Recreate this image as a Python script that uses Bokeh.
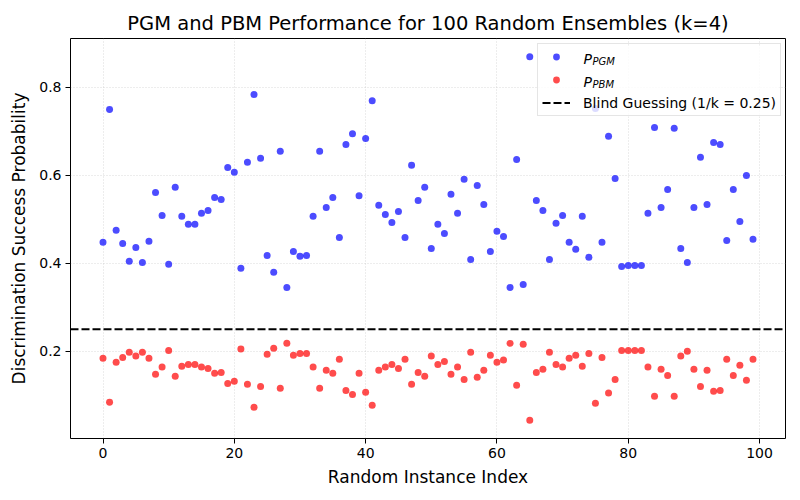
from bokeh.plotting import figure
from bokeh.models import (Range1d, FixedTicker, Legend, LegendItem, Label, ColumnDataSource,
                          BoxAnnotation)
from bokeh.embed import file_html
from bokeh.resources import INLINE

k = 4
instance_index = list(range(100))
p_pgm = [0.448, 0.750, 0.475, 0.445, 0.405, 0.436, 0.402, 0.450, 0.561, 0.509,
         0.398, 0.573, 0.507, 0.489, 0.489, 0.514, 0.520, 0.550, 0.545, 0.618,
         0.607, 0.389, 0.630, 0.784, 0.639, 0.418, 0.380, 0.655, 0.345, 0.427,
         0.416, 0.418, 0.507, 0.655, 0.527, 0.550, 0.459, 0.670, 0.695, 0.554,
         0.684, 0.770, 0.532, 0.511, 0.493, 0.518, 0.459, 0.623, 0.543, 0.573,
         0.434, 0.489, 0.468, 0.557, 0.514, 0.591, 0.409, 0.577, 0.534, 0.427,
         0.473, 0.461, 0.345, 0.636, 0.352, 0.870, 0.543, 0.520, 0.409, 0.491,
         0.509, 0.448, 0.432, 0.507, 0.414, 0.752, 0.448, 0.689, 0.593, 0.393,
         0.395, 0.395, 0.395, 0.514, 0.709, 0.527, 0.568, 0.707, 0.434, 0.402,
         0.527, 0.641, 0.534, 0.675, 0.670, 0.452, 0.568, 0.495, 0.600, 0.455]
p_pbm = [0.184, 0.084, 0.175, 0.186, 0.198, 0.189, 0.198, 0.184, 0.148, 0.164,
         0.202, 0.143, 0.166, 0.170, 0.170, 0.164, 0.161, 0.150, 0.152, 0.127,
         0.132, 0.205, 0.125, 0.073, 0.120, 0.193, 0.207, 0.116, 0.218, 0.191,
         0.195, 0.195, 0.164, 0.116, 0.157, 0.150, 0.182, 0.111, 0.102, 0.150,
         0.107, 0.077, 0.157, 0.164, 0.170, 0.161, 0.182, 0.125, 0.152, 0.143,
         0.189, 0.170, 0.177, 0.148, 0.164, 0.136, 0.198, 0.141, 0.157, 0.191,
         0.175, 0.180, 0.218, 0.123, 0.216, 0.043, 0.152, 0.159, 0.198, 0.170,
         0.164, 0.184, 0.191, 0.166, 0.195, 0.082, 0.186, 0.105, 0.136, 0.202,
         0.202, 0.202, 0.202, 0.164, 0.098, 0.159, 0.145, 0.098, 0.189, 0.200,
         0.159, 0.120, 0.157, 0.109, 0.111, 0.182, 0.145, 0.168, 0.134, 0.182]
x_ticks = [0, 20, 40, 60, 80, 100]
y_ticks = [0.2, 0.4, 0.6, 0.8]

# matplotlib-like 5% margins
xmin, xmax = min(instance_index), max(instance_index)
xpad = 0.05 * (xmax - xmin)
all_y = p_pgm + p_pbm
ymin, ymax = min(all_y), max(all_y)
ypad = 0.05 * (ymax - ymin)
x_lo, x_hi = xmin - xpad, xmax + xpad

FONT = "DejaVu Sans"

p = figure(width=800, height=500, output_backend="svg", toolbar_location=None,
           x_range=Range1d(x_lo, x_hi),
           y_range=Range1d(ymin - ypad, ymax + ypad),
           min_border_left=70, min_border_right=15, min_border_top=38, min_border_bottom=62,
           background_fill_color="white", border_fill_color="white")

p.title.text = "PGM and PBM Performance for 100 Random Ensembles (k=4)"
p.title.align = "center"
p.title.text_font = FONT
p.title.text_font_size = "19.5px"
p.title.text_font_style = "normal"
p.title.text_color = "black"
p.title.offset = 0
p.title.standoff = 8

src = ColumnDataSource(dict(x=instance_index, pgm=p_pgm, pbm=p_pbm))
r_pgm = p.scatter("x", "pgm", source=src, size=7, fill_color="blue", fill_alpha=0.7,
                  line_color="blue", line_alpha=0.0)
r_pbm = p.scatter("x", "pbm", source=src, size=7, fill_color="red", fill_alpha=0.7,
                  line_color="red", line_alpha=0.0)

blind = 1 / k
r_line = p.line(x=[x_lo, x_hi], y=[blind, blind], line_color="black", line_width=2,
                line_dash="8 3")

# axes
for ax in (p.xaxis[0], p.yaxis[0]):
    ax.axis_line_color = None
    ax.major_tick_line_color = "black"
    ax.major_tick_in = 0
    ax.major_tick_out = 5
    ax.minor_tick_line_color = None
    ax.major_label_text_font = FONT
    ax.major_label_text_font_size = "14px"
    ax.major_label_text_color = "black"
    ax.axis_label_text_font = FONT
    ax.axis_label_text_font_size = "17px"
    ax.axis_label_text_font_style = "normal"
    ax.axis_label_text_color = "black"
p.xaxis.ticker = FixedTicker(ticks=x_ticks)
p.yaxis.ticker = FixedTicker(ticks=y_ticks)
p.xaxis.axis_label = "Random Instance Index"
p.yaxis.axis_label = "Discrimination Success Probability"
p.xaxis.major_label_standoff = 4
p.yaxis.major_label_standoff = 4
p.xaxis.axis_label_standoff = 6
p.yaxis.axis_label_standoff = 7

p.outline_line_color = "black"
p.outline_line_width = 1

for g in (p.xgrid[0], p.ygrid[0]):
    g.grid_line_color = "#b0b0b0"
    g.grid_line_alpha = 0.6
    g.grid_line_dash = "1 2"
    g.grid_line_width = 0.8
p.xgrid.ticker = FixedTicker(ticks=x_ticks)
p.ygrid.ticker = FixedTicker(ticks=y_ticks)

# translucent legend background (frame-relative screen units)
bg = BoxAnnotation(left=467, right=709, top=393, bottom=322,
                   left_units="screen", right_units="screen",
                   top_units="screen", bottom_units="screen",
                   fill_color="white", fill_alpha=0.8, line_color=None,
                   level="annotation")
p.add_layout(bg)

legend = Legend(items=[LegendItem(label=" ", renderers=[r_pgm]),
                       LegendItem(label=" ", renderers=[r_pbm]),
                       LegendItem(label="Blind Guessing (1/k = 0.25)", renderers=[r_line])],
                location=(467, 322), padding=4, spacing=6, glyph_height=17, glyph_width=28,
                label_height=17, label_standoff=13, margin=0,
                label_text_font=FONT, label_text_font_size="14px", label_text_color="black",
                border_line_color="#cccccc", border_line_width=1,
                background_fill_color="white", background_fill_alpha=0.0)
p.add_layout(legend, "center")

# math-style legend labels P_PGM and P_PBM
for row, sub in enumerate(["PGM", "PBM"]):
    cy = 380 - 23 * row
    lab_p = Label(x=513, y=cy, x_units="screen", y_units="screen", text="P",
                  text_font=FONT, text_font_style="italic", text_font_size="14px",
                  text_color="black", text_baseline="middle",
                  text_align="left", level="overlay")
    lab_s = Label(x=522, y=cy - 3, x_units="screen", y_units="screen", text=sub,
                  text_font=FONT, text_font_style="italic", text_font_size="10px",
                  text_color="black", text_baseline="middle",
                  text_align="left", level="overlay")
    p.add_layout(lab_p, "center")
    p.add_layout(lab_s, "center")

open("out.html", "w").write(file_html(p, INLINE))
